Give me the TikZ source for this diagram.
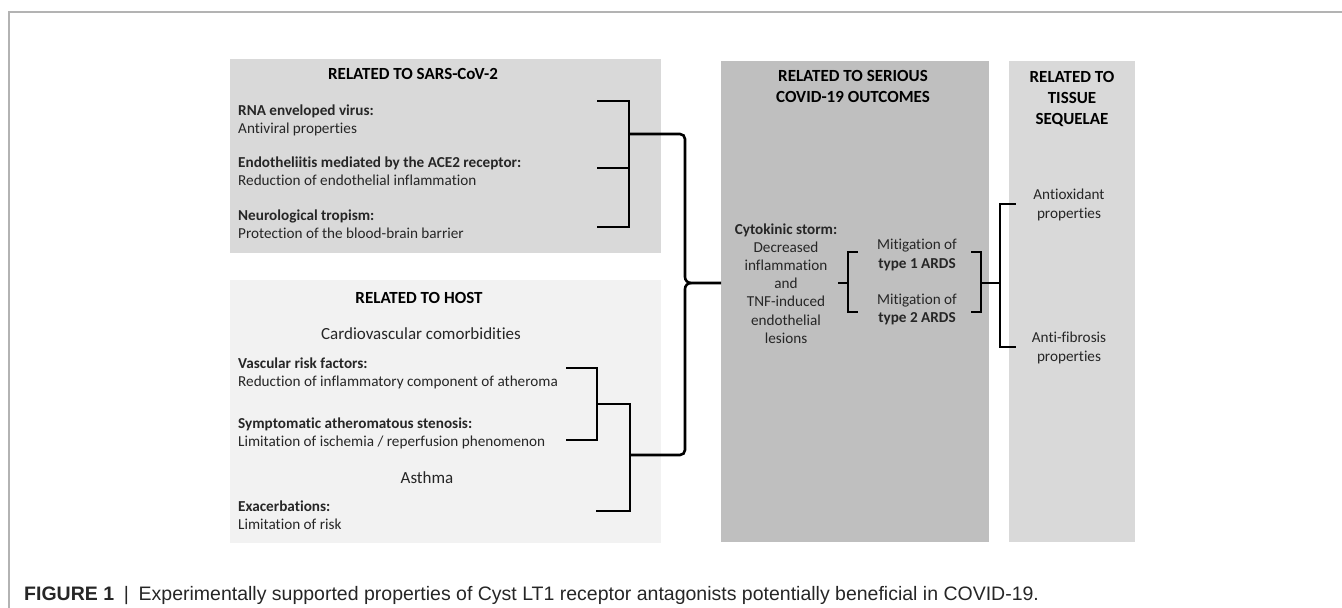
\documentclass[tikz,border=0pt]{standalone}
\usepackage{fontspec}
\setmainfont{Carlito}[Ligatures=NoCommon]
\newfontfamily\capfont{Liberation Sans}
\definecolor{sarsgray}{HTML}{D9D9D9}
\definecolor{hostgray}{HTML}{F2F2F2}
\definecolor{outgray}{HTML}{BFBFBF}
\definecolor{txtgray}{HTML}{262626}
\definecolor{framegray}{HTML}{B3B3B3}
\begin{document}
\begin{tikzpicture}[x=1pt,y=-1pt,
  panel/.style = {rectangle,draw=none,anchor=north west,inner sep=0pt,outer sep=0pt},
  head/.style = {font=\fontsize{17}{21}\selectfont\bfseries,align=center,text=black,inner sep=0pt},
  subhead/.style = {font=\fontsize{17}{21}\selectfont,text=txtgray,inner sep=0pt},
  item/.style = {font=\fontsize{15.2}{18}\selectfont,align=left,anchor=west,text=txtgray,inner sep=0pt},
  mid/.style = {font=\fontsize{15.2}{18.2}\selectfont,align=center,text=txtgray,inner sep=0pt},
  brk/.style = {line width=2.6pt,black,line cap=rect}]
\useasboundingbox (0,0) rectangle (1342,608);
\draw[framegray,line width=1.5pt] (9,608) -- (9,12) -- (1342,12);
\node[panel,fill=sarsgray,minimum width=431,minimum height=194] (sars) at (230,59) {};
\node[panel,fill=hostgray,minimum width=431,minimum height=263] (host) at (230,280) {};
\node[panel,fill=outgray,minimum width=268,minimum height=481] (outcome) at (721,61) {};
\node[panel,fill=sarsgray,minimum width=126,minimum height=481] (tissue) at (1009,61) {};
\node[head] (sarstitle) at (413,74) {RELATED TO SARS-CoV-2};
\node[item] (rna) at (238,120.5) {\textbf{RNA enveloped virus:}\\Antiviral properties};
\node[item] (endo) at (238,171) {\textbf{Endotheliitis mediated by the ACE2 receptor:}\\Reduction of endothelial inflammation};
\node[item] (neuro) at (238,224) {\textbf{Neurological tropism:}\\Protection of the blood-brain barrier};
\node[head] (hosttitle) at (419,298) {RELATED TO HOST};
\node[subhead] (cardio) at (421,334) {Cardiovascular comorbidities};
\node[item] (vasc) at (238,373) {\textbf{Vascular risk factors:}\\Reduction of inflammatory component of atheroma};
\node[item] (steno) at (238,433) {\textbf{Symptomatic atheromatous stenosis:}\\Limitation of ischemia / reperfusion phenomenon};
\node[subhead] (asthma) at (427,478) {Asthma};
\node[item] (exac) at (238,515.5) {\textbf{Exacerbations:}\\Limitation of risk};
\node[head] (outtitle) at (853,86.5) {RELATED TO SERIOUS\\COVID-19 OUTCOMES};
\node[mid] (storm) at (786,283.5) {\textbf{Cytokinic storm:}\\Decreased\\inflammation\\and\\TNF-induced\\endothelial\\lesions};
\node[mid] (ards1) at (917,255) {Mitigation of\\\textbf{type 1 ARDS}};
\node[mid] (ards2) at (917,309.5) {Mitigation of\\\textbf{type 2 ARDS}};
\node[head] (tistitle) at (1072,98.5) {RELATED TO\\TISSUE\\SEQUELAE};
\node[mid] (oxid) at (1069,205) {Antioxidant\\properties};
\node[mid] (fibro) at (1069,348) {Anti-fibrosis\\properties};
\coordinate (sarsjoin) at (629,134);
\coordinate (hostjoin) at (630,455);
\coordinate (stormjoin) at (839,283);
\coordinate (ardsjoin) at (1000,283);
\draw[brk] (598,101) -| (629,227) -- (598,227);
\draw[brk] (598,168) -- (629,168);
\draw[brk] (567,368) -| (597,440) -- (567,440);
\draw[brk] (597,404) -| (630,511) -- (597,511);
\draw[brk,line cap=butt] (sarsjoin) -- (680,134) to[out=0,in=90] (685,139) -- (685,277)
  to[out=-90,in=180] (691,283) -- (outcome.west |- 0,283);
\draw[brk,line cap=butt] (691,283) to[out=180,in=90] (685,289) -- (685,450)
  to[out=-90,in=0] (680,455) -- (hostjoin);
\draw[brk] (857,252) -| (848,312) -- (857,312);
\draw[brk] (stormjoin) -- (848,283);
\draw[brk] (972,252) -| (981,312) -- (972,312);
\draw[brk] (981,283) -- (ardsjoin);
\draw[brk] (1015,204) -| (1000,347) -- (1015,347);
\node[anchor=base west,inner sep=0pt,text=txtgray,font=\capfont\fontsize{19.5}{22}\selectfont] (caption) at (24,600)
  {\textbf{FIGURE 1}\enspace\textbar\enspace Experimentally supported properties of Cyst LT1 receptor antagonists potentially beneficial in COVID-19.};
\end{tikzpicture}
\end{document}
